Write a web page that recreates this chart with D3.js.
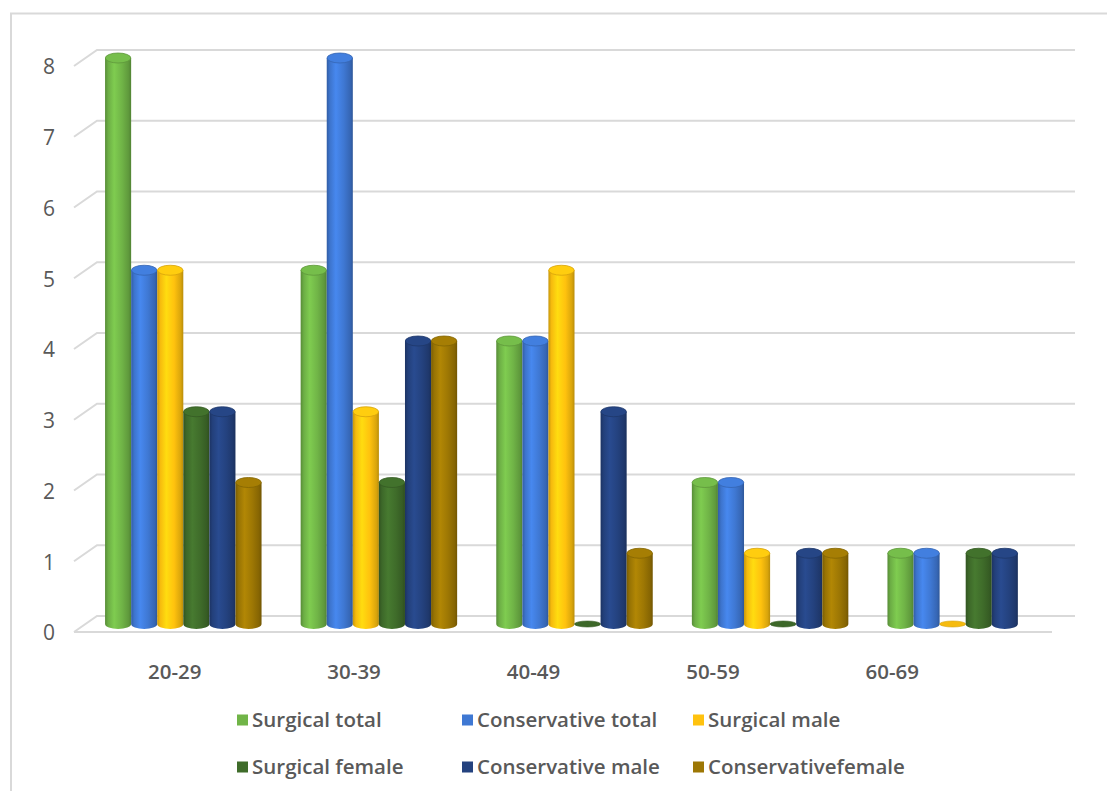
<!DOCTYPE html>
<html>
<head>
<meta charset="utf-8">
<script src="https://cdn.jsdelivr.net/npm/d3@7"></script>
<style>
  html, body { margin: 0; padding: 0; background: #ffffff; }
  svg { display: block; }
</style>
</head>
<body>
<svg id="chart" width="1107" height="791"></svg>
<script>
// Age groups on the category axis
const categories = ["20-29", "30-39", "40-49", "50-59", "60-69"];

// Series names (legend order) and their counts per age group
const seriesNames = [
  "Surgical total", "Conservative total", "Surgical male",
  "Surgical female", "Conservative male", "Conservativefemale"
];
const surgicalTotal       = [8, 5, 4, 2, 1];
const conservativeTotal   = [5, 8, 4, 2, 1];
const surgicalMale        = [5, 3, 5, 1, 0];
const surgicalFemale      = [3, 2, 0, 0, 1];
const conservativeMale    = [3, 4, 3, 1, 1];
const conservativeFemale  = [2, 4, 1, 1, null];

const yTicks = [0, 1, 2, 3, 4, 5, 6, 7, 8];

const seriesValues = [surgicalTotal, conservativeTotal, surgicalMale,
                      surgicalFemale, conservativeMale, conservativeFemale];
const colors = ["#70b447", "#3f78d3", "#ffc20e", "#3f6c2a", "#24427f", "#9d7704"];

const svg = d3.select("#chart");
const defs = svg.append("defs");
const fontFamily = "'Open Sans', Lato, sans-serif";

// Oblique 3D: back wall plane, with depth offset toward the viewer
const depthDX = -23, depthDY = 16;
const backLeft = 97, backRight = 1075;

const y = d3.scaleLinear().domain([0, 8]).range([616, 50]);
const xBack = d3.scaleBand().domain(categories).range([backLeft, backRight])
  .paddingInner(0.2).paddingOuter(0.1);
const xSeries = d3.scaleBand().domain(seriesNames).range([0, xBack.bandwidth()]);
const xLabel = d3.scaleBand().domain(categories).range([85, 982]);

// Outer chart frame
svg.append("path")
  .attr("d", "M11,791 L11,13.5 L1107,13.5")
  .attr("fill", "none").attr("stroke", "#d9d9d9").attr("stroke-width", 2);

// Gridlines on the back wall with the left side-wall diagonal
const grid = svg.append("g").attr("fill", "none").attr("stroke", "#d9d9d9").attr("stroke-width", 2);
yTicks.forEach(t => {
  if (t === 0) return;
  grid.append("path")
    .attr("d", `M${backLeft + depthDX},${y(t) + depthDY} L${backLeft},${y(t)} L${backRight},${y(t)}`);
});
// Floor: left diagonal, back edge and front edge
grid.append("path")
  .attr("d", `M${backLeft + depthDX},${y(0) + depthDY} L${backLeft},${y(0)} L${backRight},${y(0)}`);
grid.append("path")
  .attr("d", `M${backLeft + depthDX},${y(0) + depthDY} L${backRight + depthDX},${y(0) + depthDY}`);

// Y axis tick labels, set at the front-left corners
svg.append("g").selectAll("text").data(yTicks).join("text")
  .attr("x", 55)
  .attr("y", d => y(d) + depthDY + 1)
  .attr("dy", "0.35em")
  .attr("text-anchor", "end")
  .attr("font-family", fontFamily)
  .attr("font-size", 21)
  .attr("fill", "#595959")
  .text(d => d);

// Category labels
svg.append("g").selectAll("text").data(categories).join("text")
  .attr("x", d => xLabel(d) + xLabel.bandwidth() / 2)
  .attr("y", 672)
  .attr("dy", "0.35em")
  .attr("text-anchor", "middle")
  .attr("font-family", fontFamily)
  .attr("font-weight", 600)
  .attr("font-size", 20.5)
  .attr("fill", "#595959")
  .text(d => d);

// Cylinder shading gradients
colors.forEach((c, i) => {
  const base = d3.color(c);
  const g = defs.append("linearGradient").attr("id", "cyl" + i)
    .attr("x1", 0).attr("x2", 1).attr("y1", 0).attr("y2", 0);
  g.append("stop").attr("offset", "0%").attr("stop-color", base.darker(0.7));
  g.append("stop").attr("offset", "12%").attr("stop-color", base.darker(0.1));
  g.append("stop").attr("offset", "35%").attr("stop-color", base.brighter(0.35));
  g.append("stop").attr("offset", "65%").attr("stop-color", base);
  g.append("stop").attr("offset", "90%").attr("stop-color", base.darker(0.45));
  g.append("stop").attr("offset", "100%").attr("stop-color", base.darker(0.9));
});

// Bars: cylinders placed half-way in depth
const midDX = depthDX / 2, midDY = depthDY / 2;
const ry = 5;
const bars = [];
categories.forEach((cat, ci) => {
  seriesNames.forEach((s, si) => {
    const v = seriesValues[si][ci];
    if (v === null || v === undefined) return;
    bars.push({cat, s, si, v});
  });
});

const barG = svg.append("g");
bars.forEach(b => {
  const w = xSeries.bandwidth();
  const x0 = xBack(b.cat) + xSeries(b.s) + midDX;
  const cx = x0 + w / 2;
  const rx = w / 2;
  const yTop = y(b.v) + midDY;
  const yBot = y(0) + midDY;
  const base = d3.color(colors[b.si]);
  const g = barG.append("g");
  if (b.v > 0) {
    g.append("path")
      .attr("d", `M${x0},${yTop} L${x0},${yBot} A${rx},${ry} 0 0 0 ${x0 + w},${yBot} L${x0 + w},${yTop} Z`)
      .attr("fill", `url(#cyl${b.si})`);
    g.append("ellipse")
      .attr("cx", cx).attr("cy", yTop).attr("rx", rx - 0.3).attr("ry", ry)
      .attr("fill", base.brighter(0.15))
      .attr("stroke", base.darker(0.5)).attr("stroke-width", 0.8);
  } else {
    g.append("ellipse")
      .attr("cx", cx).attr("cy", yBot).attr("rx", rx).attr("ry", ry - 2)
      .attr("fill", base.darker(0.1))
      .attr("stroke", base.darker(0.5)).attr("stroke-width", 0.6);
  }
});

// Legend, two rows of three
const legendCols = [237, 462, 693];
const legendRows = [720, 767];
const legend = svg.append("g");
seriesNames.forEach((s, i) => {
  const lx = legendCols[i % 3];
  const ly = legendRows[Math.floor(i / 3)];
  legend.append("rect")
    .attr("x", lx).attr("y", ly - 5.5).attr("width", 11).attr("height", 11)
    .attr("fill", colors[i]);
  legend.append("text")
    .attr("x", lx + 15).attr("y", ly)
    .attr("dy", "0.35em")
    .attr("font-family", fontFamily)
    .attr("font-weight", 600)
    .attr("font-size", 20.5)
    .attr("fill", "#595959")
    .text(s);
});
</script>
</body>
</html>
